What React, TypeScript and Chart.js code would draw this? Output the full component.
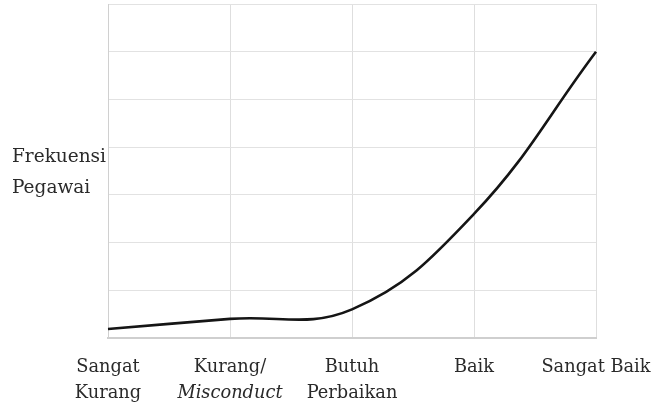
import React, { useEffect, useRef } from "react";
import { Chart, registerables } from "chart.js";

Chart.register(...registerables);

const categories: string[][] = [
  ["Sangat", "Kurang"],
  ["Kurang/", "Misconduct"],
  ["Butuh", "Perbaikan"],
  ["Baik"],
  ["Sangat Baik"],
];
const italicLines: string[] = ["Misconduct"];
const frequency: number[] = [0.19, 0.4, 0.6, 2.6, 6.0];
const yTitleLines: string[] = ["Frekuensi", "Pegawai"];
const yMin = 0;
const yMax = 7;

const FONT_FAMILY = "'DejaVu Serif', serif";
const TEXT_COLOR = "#2a2a2a";

const labelPlugin = {
  id: "customLabels",
  afterDraw(chart: any) {
    const ctx = chart.ctx;
    const xs = chart.scales.x;
    const area = chart.chartArea;
    ctx.save();
    ctx.fillStyle = TEXT_COLOR;
    ctx.textAlign = "center";
    ctx.textBaseline = "alphabetic";
    categories.forEach((lines, i) => {
      const x = xs.getPixelForValue(i);
      lines.forEach((line, j) => {
        const italic = italicLines.includes(line);
        ctx.font = `${italic ? "italic " : ""}17.8px ${FONT_FAMILY}`;
        ctx.fillText(line, x, area.bottom + 34 + j * 26);
      });
    });
    ctx.textAlign = "left";
    ctx.font = `18.5px ${FONT_FAMILY}`;
    yTitleLines.forEach((line, j) => {
      ctx.fillText(line, 12, 162 + j * 31);
    });
    ctx.restore();
  },
};

export default function App() {
  const canvasRef = useRef<HTMLCanvasElement | null>(null);

  useEffect(() => {
    if (!canvasRef.current) return;
    const chart = new Chart(canvasRef.current, {
      type: "line",
      data: {
        labels: categories,
        datasets: [
          {
            data: frequency,
            borderColor: "#151515",
            borderWidth: 2.6,
            pointRadius: 0,
            tension: 0.4,
            fill: false,
          },
        ],
      },
      options: {
        animation: false,
        responsive: true,
        maintainAspectRatio: false,
        layout: { padding: { left: 108, right: 72, top: 4, bottom: 70 } },
        plugins: {
          legend: { display: false },
          tooltip: { enabled: false },
          title: { display: false },
        },
        scales: {
          x: {
            type: "category",
            offset: false,
            grid: {
              color: "#dedede",
              lineWidth: 1,
              drawTicks: false,
              offset: false,
            },
            border: { display: true, color: "#cfcfcf", width: 2 },
            ticks: { display: false },
          },
          y: {
            min: yMin,
            max: yMax,
            grid: { color: "#e2e2e2", lineWidth: 1, drawTicks: false },
            border: { display: true, color: "#d0d0d0", width: 1 },
            ticks: { display: false, stepSize: 1 },
          },
        },
      },
      plugins: [labelPlugin],
    });
    return () => chart.destroy();
  }, []);

  return (
    <div
      style={{
        position: "absolute",
        left: 0,
        top: 0,
        width: 668,
        height: 408,
        background: "#ffffff",
      }}
    >
      <canvas ref={canvasRef} />
    </div>
  );
}
